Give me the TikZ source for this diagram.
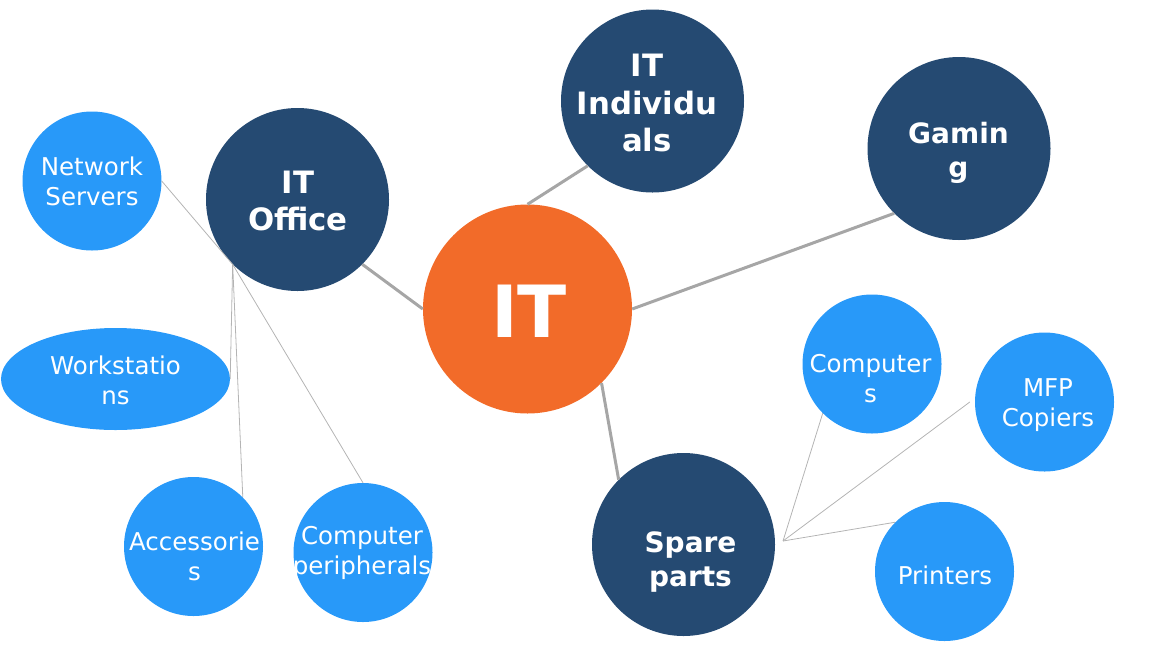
\documentclass[tikz,border=0pt]{standalone}
\usepackage{fontspec}
\setmainfont{DejaVu Sans}
\usetikzlibrary{shapes.geometric}
\definecolor{itorange}{HTML}{F26B29}
\definecolor{itdark}{HTML}{254A72}
\definecolor{itlight}{HTML}{2899F9}
\definecolor{thickgray}{HTML}{A6A6A6}
\definecolor{thingray}{HTML}{B4B4B4}
\tikzset{
  hub/.style={circle,fill=itorange,draw=none,inner sep=0pt,minimum size=209pt},
  darkc/.style={circle,fill=itdark,draw=none,inner sep=0pt,minimum size=183pt},
  lightc/.style={circle,fill=itlight,draw=none,inner sep=0pt,minimum size=139pt},
  lighte/.style={ellipse,fill=itlight,draw=none,inner sep=0pt,minimum width=229pt,minimum height=102pt},
  bigtxt/.style={text=white,inner sep=0pt,font=\bfseries\fontsize{72}{86}\selectfont},
  darktxt/.style={text=white,inner sep=0pt,align=center,font=\bfseries\fontsize{30.8}{37.8}\selectfont},
  darktxtb/.style={text=white,inner sep=0pt,align=center,font=\bfseries\fontsize{28}{34.5}\selectfont},
  lighttxt/.style={text=white,inner sep=0pt,align=center,font=\fontsize{24.5}{30}\selectfont},
  thickline/.style={draw=thickgray,line width=3pt},
  thinline/.style={draw=thingray,line width=0.8pt}
}
\begin{document}
\begin{tikzpicture}[x=1pt,y=-1pt]
\useasboundingbox (0,0) rectangle (1150,649);
% circles
\node[hub] (it) at (527.5,309) {};
\node[darkc] (ind) at (652.5,101) {};
\node[darkc] (gam) at (959,148.5) {};
\node[darkc] (off) at (297.5,199.5) {};
\node[darkc] (sp) at (683.5,544.5) {};
\node[lightc] (ns) at (92,181) {};
\node[lighte] (ws) at (115.5,379) {};
\node[lightc] (acc) at (193.5,546.5) {};
\node[lightc] (cp) at (363,552.5) {};
\node[lightc] (cs) at (872,364) {};
\node[lightc] (mfp) at (1044.5,402) {};
\node[lightc] (pr) at (944.5,571.5) {};
\coordinate (sph) at (783,541);
% connectors
\draw[thickline] (off.south east) -- (it.west);
\draw[thickline] (it.north) -- (ind.south west);
\draw[thickline] (it.east) -- (gam.south west);
\draw[thickline] (it.south east) -- (sp.north west);
\draw[thinline] (off.south west) -- (ns.east);
\draw[thinline] (off.south west) -- (ws.east);
\draw[thinline] (off.south west) -- (acc.north east);
\draw[thinline] (off.south west) -- (cp.north);
\draw[thinline] (sph) -- (cs.south west);
\draw[thinline] (sph) -- ([xshift=-5pt]mfp.west);
\draw[thinline] (sph) -- (pr.north west);
% labels
\node[bigtxt] (t-it) at (529,311) {IT};
\node[darktxt] (t-ind) at (647,103) {IT\\Individu\\als};
\node[darktxtb] (t-gam) at (958.5,153) {Gamin\\g};
\node[darktxt] (t-off) at (298,201) {IT\\Office};
\node[darktxtb] (t-sp) at (690.5,562) {Spare\\parts};
\node[lighttxt] (t-ns) at (92,181) {Network\\Servers};
\node[lighttxt] (t-ws) at (115.5,380) {Workstatio\\ns};
\node[lighttxt] (t-acc) at (194.5,556) {Accessorie\\s};
\node[lighttxt] (t-cp) at (362,552.5) {Computer\\peripherals};
\node[lighttxt] (t-cs) at (870.5,379) {Computer\\s};
\node[lighttxt] (t-mfp) at (1048,405) {MFP\\Copiers};
\node[lighttxt] (t-pr) at (945,575) {Printers};
\end{tikzpicture}
\end{document}
